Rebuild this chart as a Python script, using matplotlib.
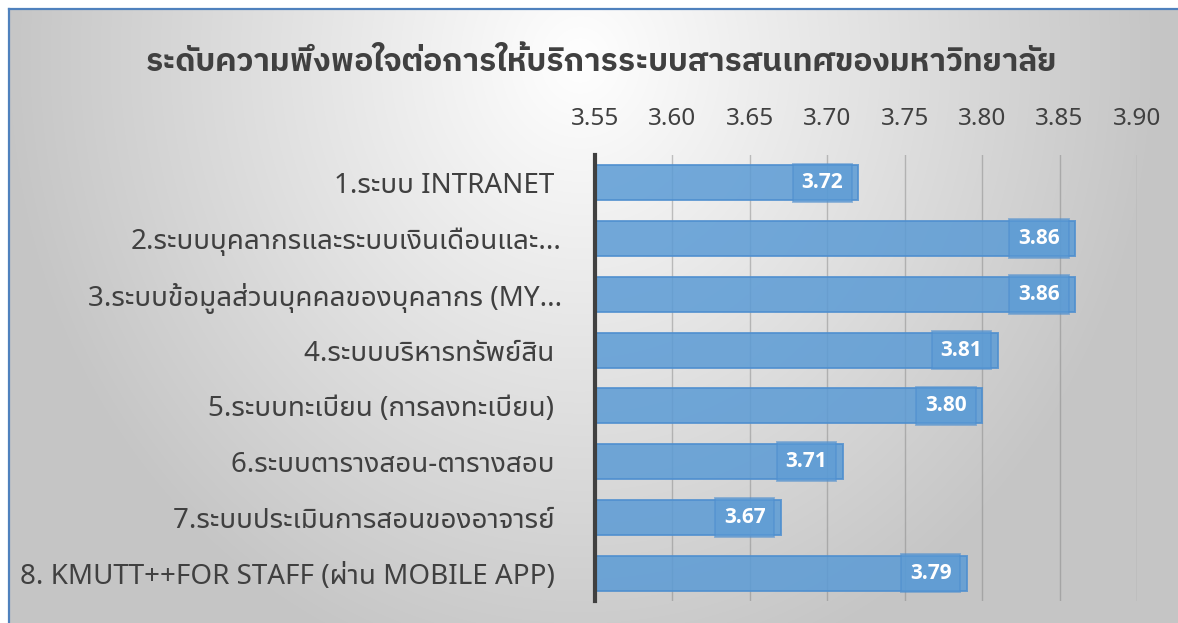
import numpy as np
import matplotlib
matplotlib.use("Agg")
import matplotlib.pyplot as plt
from matplotlib.lines import Line2D

plt.rcParams['font.family'] = ['Noto Sans Thai UI', 'Noto Sans', 'DejaVu Sans']

title = "ระดับความพึงพอใจต่อการให้บริการระบบสารสนเทศของมหาวิทยาลัย"
categories = [
    "1.ระบบ INTRANET ",
    "2.ระบบบุคลากรและระบบเงินเดือนและ...",
    "3.ระบบข้อมูลส่วนบุคคลของบุคลากร (MY...",
    "4.ระบบบริหารทรัพย์สิน ",
    "5.ระบบทะเบียน (การลงทะเบียน) ",
    "6.ระบบตารางสอน-ตารางสอบ ",
    "7.ระบบประเมินการสอนของอาจารย์ ",
    "8. KMUTT++FOR STAFF (ผ่าน MOBILE APP) ",
]
values = [3.72, 3.86, 3.86, 3.81, 3.80, 3.71, 3.67, 3.79]
value_labels = ["3.72", "3.86", "3.86", "3.81", "3.80", "3.71", "3.67", "3.79"]
xticks = [3.55, 3.60, 3.65, 3.70, 3.75, 3.80, 3.85, 3.90]
xtick_labels = ["3.55", "3.60", "3.65", "3.70", "3.75", "3.80", "3.85", "3.90"]

W, H = 1178, 623
fig = plt.figure(figsize=(W / 100, H / 100), dpi=100)
fig.patch.set_facecolor('white')

# background gradient panel
x0 = 9
y0 = 9
bg = fig.add_axes([x0 / W, 0, 1 - x0 / W, 1 - y0 / H])
bg.set_axis_off()
gx = np.arange(x0, W)
gy = np.arange(y0, H)
X, Y = np.meshgrid(gx, gy)
d = np.sqrt(((X - 580) / 580.0) ** 2 + ((Y - 60) / 640.0) ** 2)
v = 255 - 58 * np.clip(d, 0, 1) ** 1.0
img = np.dstack([v, v, v]) / 255.0
bg.imshow(img, aspect='auto', extent=[0, 1, 0, 1], interpolation='bilinear')
bg.set_xlim(0, 1)
bg.set_ylim(0, 1)
bg.set_zorder(-5)

# blue frame (top and left)
fig.add_artist(Line2D([x0 / W, 1], [1 - y0 / H, 1 - y0 / H], color='#4F81BD', lw=1.6, transform=fig.transFigure))
fig.add_artist(Line2D([x0 / W, x0 / W], [0, 1 - y0 / H], color='#4F81BD', lw=1.6, transform=fig.transFigure))

left, right = 595 / W, 1137 / W
top, bottom = 1 - 155 / H, 1 - 601 / H
ax = fig.add_axes([left, bottom, right - left, top - bottom])
ax.patch.set_alpha(0)

y = np.arange(len(categories))
ax.barh(y, [v_ - 3.55 for v_ in values], left=3.55, height=0.63,
        color='#5B9BD5', alpha=0.85, edgecolor='#4F8FCF', linewidth=1.4, zorder=3)

ax.set_xlim(3.55, 3.90)
ax.set_ylim(len(categories) - 0.5, -0.5)
ax.set_xticks(xticks)
ax.set_xticklabels(xtick_labels)
ax.xaxis.tick_top()
ax.tick_params(axis='x', length=0, pad=17, labelsize=17.5, labelcolor='#404040')
ax.set_yticks(y)
ax.set_yticklabels(categories, fontweight='light')
ax.tick_params(axis='y', length=0, pad=24, labelsize=20, labelcolor='#404040')

ax.grid(axis='x', color='#7f7f7f', alpha=0.45, linewidth=1.0, zorder=1)
ax.set_axisbelow(True)
for s in ['top', 'right', 'bottom']:
    ax.spines[s].set_visible(False)
ax.spines['left'].set_color('#404040')
ax.spines['left'].set_linewidth(3)
ax.spines['left'].set_zorder(5)

for yi, val, lab in zip(y, values, value_labels):
    ax.annotate(lab, xy=(val, yi), xytext=(-11, 0), textcoords='offset points',
                ha='right', va='center', color='white', fontsize=15, fontweight='bold',
                family=['Open Sans', 'DejaVu Sans'], zorder=6,
                bbox=dict(boxstyle='square,pad=0.42', facecolor='#5B9BD5', alpha=0.55,
                          edgecolor='#4F8FCF', linewidth=1.4))

fig.text(601 / W, 1 - 62 / H, title, ha='center', va='center', fontsize=22.9,
         fontweight='bold', color='#404040', family=['IBM Plex Sans Thai', 'Noto Sans Thai UI', 'DejaVu Sans'])

fig.savefig("out.png", dpi=100)
